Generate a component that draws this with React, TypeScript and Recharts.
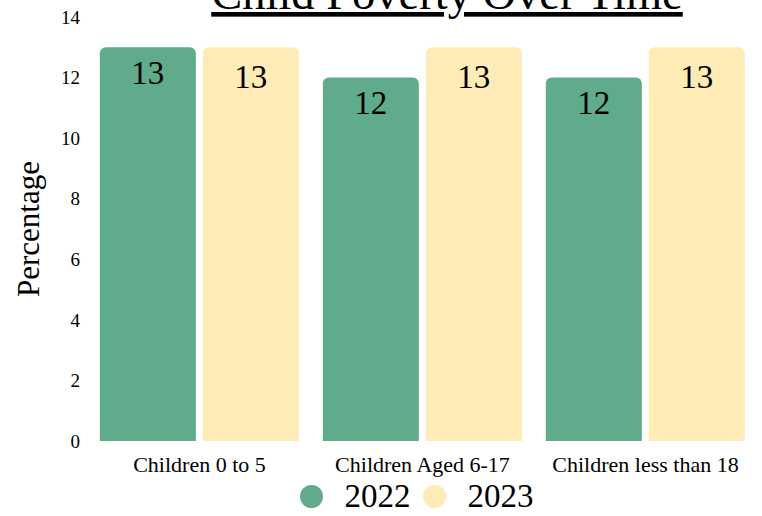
import React from 'react'
import { Bar, BarChart, LabelList, Legend, XAxis, YAxis } from 'recharts';

const categories = ["Children 0 to 5", "Children Aged 6-17", "Children less than 18"];
const values2022 = [13, 12, 12];
const values2023 = [13, 13, 13];
const yTicks = [0, 2, 4, 6, 8, 10, 12, 14];

const data = categories.map((name, i) => ({ name, y2022: values2022[i], y2023: values2023[i] }));

const FONT = "'Liberation Serif', serif";
const GREEN = "#5fab8b";
const YELLOW = "#feebb6";

const YLabel = ({ viewBox }: any) => {
    const cx = 28;
    const cy = viewBox.y + viewBox.height / 2;
    return (
        <text x={cx} y={cy} transform={`rotate(-90 ${cx} ${cy})`} textAnchor='middle'
            dominantBaseline='central' fontFamily={FONT} fontSize={31} fill='#000'>
            Percentage
        </text>
    )
}

const LegendContent = () => (
    <div style={{ display: 'flex', justifyContent: 'center', alignItems: 'center', height: 35,
        fontFamily: FONT, fontSize: 33, lineHeight: '33px', color: '#000' }}>
        {[["2022", GREEN], ["2023", YELLOW]].map(([label, color]) => (
            <div key={label} style={{ display: 'flex', alignItems: 'center', marginRight: 12 }}>
                <span style={{ width: 23, height: 23, borderRadius: '50%', background: color, marginRight: 22 }} />
                <span>{label}</span>
            </div>
        ))}
    </div>
)

const App: React.FC = () => {
    return (
        <div style={{ position: 'absolute', left: 0, top: 0, width: 762, height: 516 }}>
            <BarChart width={762} height={516} data={data} margin={{ top: 17, right: 5, bottom: 0, left: 0 }}
                barCategoryGap="5.3%" barGap={7}>
                <XAxis dataKey="name" axisLine={false} tickLine={false} height={40} tickMargin={9}
                    tick={{ fontFamily: FONT, fontSize: 22, fill: '#000' }} />
                <YAxis width={88} domain={[0, 14]} ticks={yTicks} axisLine={false} tickLine={false}
                    tick={{ fontFamily: FONT, fontSize: 19, fill: '#000' }} label={{ content: YLabel }} />
                <Legend verticalAlign='bottom' height={35} content={LegendContent}
                    wrapperStyle={{ left: 88, width: 669, bottom: 2 }} />
                <Bar dataKey="y2022" name="2022" fill={GREEN} radius={[6, 6, 0, 0]} isAnimationActive={false}>
                    <LabelList dataKey="y2022" position="insideTop" offset={13} fontFamily={FONT} fontSize={33} fill='#000' />
                </Bar>
                <Bar dataKey="y2023" name="2023" fill={YELLOW} radius={[6, 6, 0, 0]} isAnimationActive={false}>
                    <LabelList dataKey="y2023" position="insideTop" offset={17} fontFamily={FONT} fontSize={33} fill='#000' />
                </Bar>
            </BarChart>
            <svg width={762} height={40} style={{ position: 'absolute', left: 0, top: 0, pointerEvents: 'none' }}>
                <text x={447} y={9} textAnchor='middle' fontFamily={FONT} fontSize={46.5} fill='#000'
                    style={{ textDecoration: 'underline' }}>
                    Child Poverty Over Time
                </text>
            </svg>
        </div>
    )
}

export default App
